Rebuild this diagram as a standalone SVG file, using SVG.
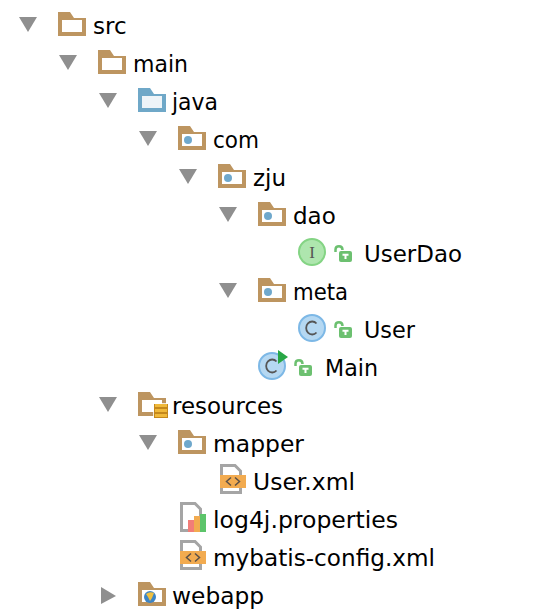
<svg xmlns="http://www.w3.org/2000/svg" width="550" height="611" viewBox="0 0 550 611">
<style>
text{font-family:"DejaVu Sans","Liberation Sans",sans-serif;font-size:23px;fill:#000}
</style>
<defs>
<polygon id="tri" points="0,0 18,0 9,15" fill="#8f8f8f"/>
<g id="folder"><path d="M0,0H12L16,6H28V24H0Z" fill="#bd9560"/><rect x="4" y="8" width="20" height="12" fill="#fff"/></g>
<g id="folderB"><path d="M0,0H12L16,6H28V24H0Z" fill="#6fa8c8"/><rect x="4" y="8" width="20" height="12" fill="#eef4f8"/></g>
<g id="pkg"><use href="#folder"/><circle cx="10" cy="14" r="4" fill="#6fa8cc"/></g>
<g id="lock"><path d="M1.500,7V4.500Q1.500,1.200 5,1.200Q8.500,1.200 8.500,5" fill="none" stroke="#6cc070" stroke-width="2.500"/><rect x="5" y="6" width="13" height="11" rx="2" fill="#6cc070"/><path d="M8.500,9.800H14.500M11.500,9.800V14" stroke="#fff" stroke-width="2"/></g>
<g id="cls"><circle r="13" fill="#b5d8f2" stroke="#7db8e6" stroke-width="2"/><path d="M4.500,-4.500A6,6.500 0 1 0 4.500,4.500" fill="none" stroke="#555" stroke-width="1.800"/></g>
<g id="xml"><path d="M1.500,1.500H15L20.500,7V28.500H1.500Z" fill="#fff" stroke="#a5a5a5" stroke-width="3"/><rect y="11" width="26" height="13" fill="#f2ab50"/><path d="M11,13.500L6.500,17.500L11,21.500M15,13.500L19.500,17.500L15,21.500" fill="none" stroke="#5a5048" stroke-width="1.500"/></g>
</defs>
<g id="node-src"><use href="#tri" x="19" y="17"/><use href="#folder" x="58" y="12"/><text x="93" y="34">src</text></g>
<g id="node-main"><use href="#tri" x="59" y="55"/><use href="#folder" x="98" y="50"/><text x="133" y="72" textLength="55" lengthAdjust="spacingAndGlyphs">main</text></g>
<g id="node-java"><use href="#tri" x="99" y="93"/><use href="#folderB" x="138" y="88"/><text x="172" y="110" textLength="46" lengthAdjust="spacingAndGlyphs">java</text></g>
<g id="node-com"><use href="#tri" x="139" y="131"/><use href="#pkg" x="178" y="126"/><text x="213" y="148" textLength="46" lengthAdjust="spacingAndGlyphs">com</text></g>
<g id="node-zju"><use href="#tri" x="179" y="169"/><use href="#pkg" x="218" y="164"/><text x="253" y="186">zju</text></g>
<g id="node-dao"><use href="#tri" x="219" y="207"/><use href="#pkg" x="258" y="202"/><text x="293" y="224">dao</text></g>
<g id="node-userdao"><circle cx="312" cy="252" r="13" fill="#aee6ae" stroke="#84d484" stroke-width="2"/><text x="312" y="258" text-anchor="middle" style="font-family:'Liberation Serif',serif;font-size:17px;fill:#555">I</text><use href="#lock" x="334" y="245"/><text x="364" y="262" textLength="98" lengthAdjust="spacingAndGlyphs">UserDao</text></g>
<g id="node-meta"><use href="#tri" x="219" y="283"/><use href="#pkg" x="258" y="278"/><text x="293" y="300" textLength="55" lengthAdjust="spacingAndGlyphs">meta</text></g>
<g id="node-user"><use href="#cls" x="312" y="328"/><use href="#lock" x="334" y="321"/><text x="364" y="338" textLength="51" lengthAdjust="spacingAndGlyphs">User</text></g>
<g id="node-mainclass"><use href="#cls" x="272" y="366"/><polygon points="278,350 288,357 278,364" fill="#28a745"/><use href="#lock" x="294" y="359"/><text x="325" y="376" textLength="53" lengthAdjust="spacingAndGlyphs">Main</text></g>
<g id="node-resources"><use href="#tri" x="99" y="397"/><use href="#folder" x="138" y="392"/><g><rect x="153" y="403" width="16" height="17" fill="#fff" opacity=".8"/><rect x="154" y="404" width="14" height="14" fill="#c4881c"/><rect x="155" y="404" width="12" height="3" fill="#f0b93a"/><rect x="155" y="409" width="12" height="3" fill="#f0b93a"/><rect x="155" y="414" width="12" height="3" fill="#f0b93a"/></g><text x="172" y="414" textLength="111" lengthAdjust="spacingAndGlyphs">resources</text></g>
<g id="node-mapper"><use href="#tri" x="139" y="435"/><use href="#pkg" x="178" y="430"/><text x="213" y="452" textLength="91" lengthAdjust="spacingAndGlyphs">mapper</text></g>
<g id="node-userxml"><use href="#xml" x="220" y="464"/><text x="253" y="490" textLength="102" lengthAdjust="spacingAndGlyphs">User.xml</text></g>
<g id="node-log4j"><path d="M181.500,503.500H195L200.500,509V530.500H181.500Z" fill="#fff" stroke="#a5a5a5" stroke-width="3"/><rect x="188" y="520" width="6" height="12" fill="#f27d78"/><rect x="194" y="516" width="6" height="16" fill="#f2ab50"/><rect x="200" y="514" width="6" height="18" fill="#5cc46a"/><text x="213" y="528" textLength="185" lengthAdjust="spacingAndGlyphs">log4j.properties</text></g>
<g id="node-mybatis"><use href="#xml" x="180" y="540"/><text x="213" y="566" textLength="222" lengthAdjust="spacingAndGlyphs">mybatis-config.xml</text></g>
<g id="node-webapp"><polygon points="101,587 116,596 101,604" fill="#8f8f8f"/><use href="#folder" x="138" y="582"/><circle cx="150" cy="597" r="6" fill="#3d85c6"/><path d="M146,594Q150,591 154,593L152,598L150,601L148,597Z" fill="#f0c040"/><text x="172" y="604" textLength="92" lengthAdjust="spacingAndGlyphs">webapp</text></g>
</svg>
